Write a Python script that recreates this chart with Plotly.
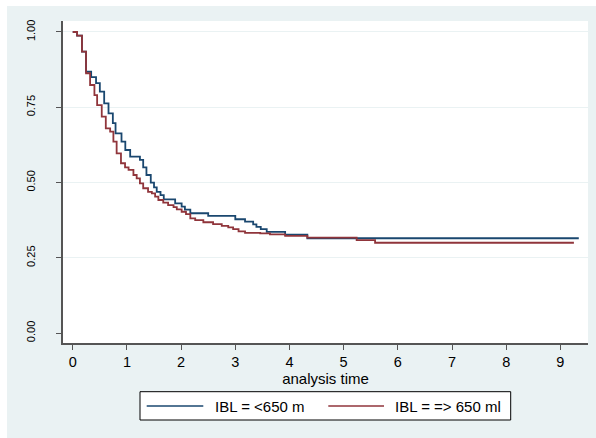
import plotly.graph_objects as go

# Kaplan-Meier step data (time, survival)
blue_name = "IBL = <650 m"
blue_t = [0, 0.08, 0.17, 0.245, 0.34, 0.43, 0.50, 0.58, 0.66, 0.74, 0.79, 0.90, 0.97, 1.06, 1.24,
          1.30, 1.36, 1.44, 1.50, 1.55, 1.62, 1.68, 1.89, 2.01, 2.07, 2.17, 2.50, 3.00, 3.18, 3.33,
          3.39, 3.47, 3.58, 3.92, 4.33, 9.34]
blue_s = [1.0, 0.988, 0.935, 0.868, 0.850, 0.830, 0.802, 0.763, 0.730, 0.697, 0.663, 0.636, 0.608,
          0.586, 0.575, 0.550, 0.525, 0.500, 0.484, 0.469, 0.458, 0.444, 0.431, 0.420, 0.410, 0.398,
          0.389, 0.378, 0.370, 0.361, 0.353, 0.345, 0.336, 0.327, 0.315, 0.315]

red_name = "IBL = => 650 ml"
red_t = [0, 0.08, 0.17, 0.245, 0.32, 0.40, 0.45, 0.535, 0.61, 0.69, 0.75, 0.81, 0.89, 0.965, 1.03,
         1.12, 1.18, 1.24, 1.30, 1.39, 1.46, 1.52, 1.58, 1.67, 1.76, 1.86, 1.92, 2.01, 2.09, 2.17,
         2.26, 2.41, 2.59, 2.75, 2.87, 2.96, 3.06, 3.18, 3.46, 3.64, 3.92, 4.33, 5.24, 5.58, 9.25]
red_s = [1.0, 0.988, 0.935, 0.863, 0.824, 0.790, 0.757, 0.719, 0.680, 0.669, 0.636, 0.597, 0.564,
         0.550, 0.542, 0.525, 0.514, 0.497, 0.481, 0.469, 0.464, 0.453, 0.442, 0.433, 0.425, 0.418,
         0.411, 0.403, 0.395, 0.381, 0.375, 0.368, 0.362, 0.356, 0.351, 0.345, 0.338, 0.333, 0.331,
         0.328, 0.323, 0.317, 0.309, 0.300, 0.300]

x_ticks = [0, 1, 2, 3, 4, 5, 6, 7, 8, 9]
y_ticks = [0, 0.25, 0.5, 0.75, 1.0]
y_ticktext = ["0.00", "0.25", "0.50", "0.75", "1.00"]
x_title = "analysis time"

NAVY = "#1A476F"
MAROON = "#90353B"
BG = "#EAF2F3"
FONT = "Liberation Sans, Arial, sans-serif"

W, H = 596, 438
L, R, T, B = 63, 8, 21, 95
pw, ph = W - L - R, H - T - B


def px_x(p):
    return (p - L) / pw


def px_y(p):
    return (H - B - p) / ph


fig = go.Figure()
fig.add_trace(go.Scatter(x=blue_t, y=blue_s, mode="lines", line=dict(color=NAVY, width=1.8, shape="hv"),
                         name=blue_name, showlegend=False))
fig.add_trace(go.Scatter(x=red_t, y=red_s, mode="lines", line=dict(color=MAROON, width=1.8, shape="hv"),
                         name=red_name, showlegend=False))

shapes = []
# white outer strips (top and left)
shapes.append(dict(type="rect", xref="paper", yref="paper", x0=px_x(0), x1=px_x(7), y0=px_y(H), y1=px_y(0),
                   fillcolor="white", line=dict(width=0), layer="below"))
shapes.append(dict(type="rect", xref="paper", yref="paper", x0=px_x(0), x1=px_x(W), y0=px_y(6), y1=px_y(0),
                   fillcolor="white", line=dict(width=0), layer="below"))
# legend box
shapes.append(dict(type="rect", xref="paper", yref="paper", x0=px_x(140), x1=px_x(510.7),
                   y0=px_y(420), y1=px_y(391.7), fillcolor="white", line=dict(color="black", width=1)))
ly = px_y(406)
shapes.append(dict(type="line", xref="paper", yref="paper", x0=px_x(146.7), x1=px_x(203.3), y0=ly, y1=ly,
                   line=dict(color=NAVY, width=1.5)))
shapes.append(dict(type="line", xref="paper", yref="paper", x0=px_x(328.3), x1=px_x(384), y0=ly, y1=ly,
                   line=dict(color=MAROON, width=1.5)))

annotations = [
    dict(x=px_x(212.7), y=px_y(406.5), xref="paper", yref="paper", text=blue_name, showarrow=False,
         xanchor="left", yanchor="middle", font=dict(family=FONT, size=15, color="black")),
    dict(x=px_x(393.3), y=px_y(406.5), xref="paper", yref="paper", text=red_name, showarrow=False,
         xanchor="left", yanchor="middle", font=dict(family=FONT, size=15, color="black")),
]

fig.update_layout(
    width=W, height=H,
    margin=dict(l=L, r=R, t=T, b=B, pad=0),
    paper_bgcolor=BG, plot_bgcolor="white",
    shapes=shapes, annotations=annotations,
    font=dict(family=FONT, color="black"),
    showlegend=False,
)
fig.update_xaxes(
    range=[-0.18, 9.51], tickmode="array", tickvals=x_ticks,
    showgrid=False, zeroline=False, showline=True, linecolor="#555555", linewidth=1.5,
    ticks="outside", ticklen=5, tickwidth=1, tickcolor="#555555",
    tickfont=dict(family=FONT, size=14.5, color="black"),
    title=dict(text=x_title, font=dict(family=FONT, size=15, color="black"), standoff=0),
    automargin=False,
)
fig.update_yaxes(
    range=[-0.033, 1.0365], tickmode="array", tickvals=y_ticks, ticktext=y_ticktext,
    showgrid=True, gridcolor=BG, gridwidth=1,
    zeroline=True, zerolinecolor="white", zerolinewidth=1,
    showline=True, linecolor="#555555", linewidth=1.5,
    ticks="outside", ticklen=5, tickwidth=1, tickcolor="#555555",
    tickangle=-90, tickfont=dict(family=FONT, size=11, color="black"),
    ticklabelstandoff=17, automargin=False,
)

fig.write_html("out.html")
